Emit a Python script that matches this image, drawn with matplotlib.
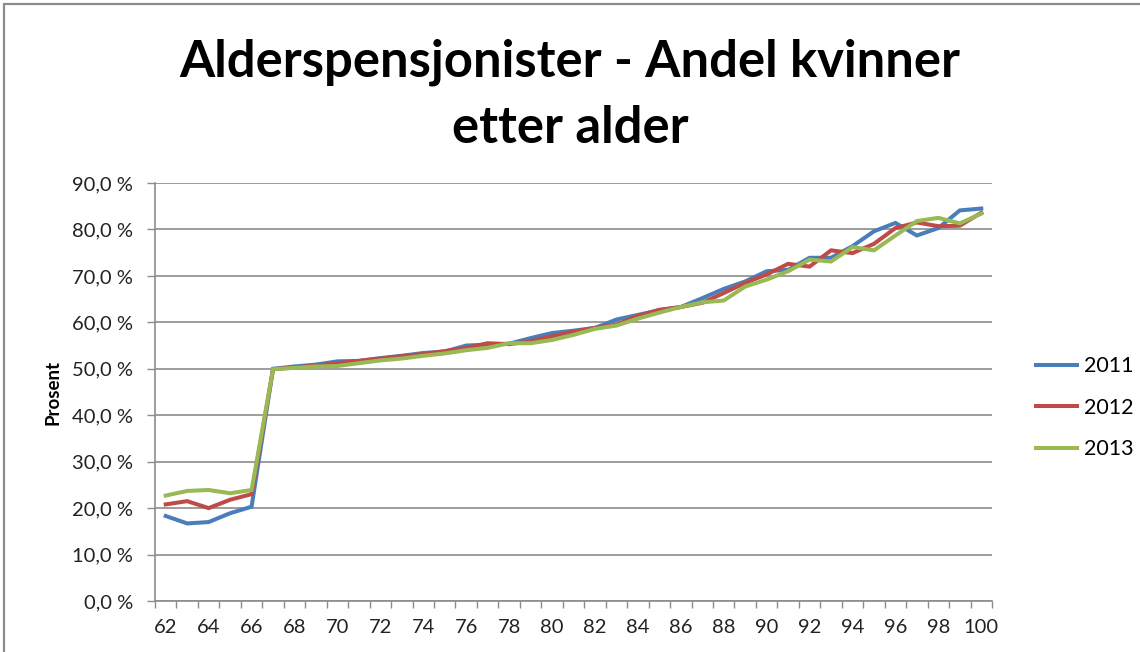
import matplotlib.pyplot as plt
from matplotlib.patches import Rectangle
from matplotlib.ticker import FuncFormatter

ages = list(range(62, 101))

# andel kvinner (%) per alder, lest av figuren
y2011 = [18.3, 16.7, 17.0, 18.9, 20.3, 50.0, 50.5, 50.9, 51.6, 51.7,
         52.3, 52.8, 53.4, 53.7, 55.0, 55.2, 55.4, 56.6, 57.7, 58.2,
         58.8, 60.6, 61.6, 62.6, 63.3, 65.2, 67.2, 68.8, 71.0, 71.3,
         73.9, 73.9, 76.4, 79.6, 81.4, 78.7, 80.3, 84.1, 84.5]
y2012 = [20.8, 21.5, 20.0, 21.8, 23.0, 49.9, 50.3, 50.7, 51.2, 51.7,
         52.2, 52.7, 53.2, 53.8, 54.5, 55.5, 55.3, 55.9, 57.0, 58.0,
         58.8, 59.5, 61.4, 62.7, 63.3, 64.2, 66.3, 68.5, 70.3, 72.6,
         72.0, 75.5, 74.9, 76.9, 80.3, 81.5, 80.7, 80.8, 83.6]
y2013 = [22.7, 23.7, 23.9, 23.2, 23.9, 49.9, 50.2, 50.5, 50.6, 51.2,
         51.8, 52.2, 52.8, 53.3, 54.0, 54.5, 55.5, 55.5, 56.2, 57.3,
         58.6, 59.3, 60.8, 62.1, 63.3, 64.3, 64.7, 67.7, 69.2, 71.0,
         73.5, 73.1, 76.2, 75.5, 78.7, 81.8, 82.5, 81.3, 83.4]

series = [("2011", y2011, "#4a7ebb"),
          ("2012", y2012, "#be4b48"),
          ("2013", y2013, "#98b954")]

font = "Lato"
plt.rcParams['font.family'] = [font, 'DejaVu Sans']

fig = plt.figure(figsize=(11.4, 6.52), dpi=100)
# grå ramme rundt diagramområdet
fig.patches.append(Rectangle((4 / 1140, -0.1), 1.2, 1.1 - 4 / 652,
                             transform=fig.transFigure, fill=False,
                             edgecolor="#8c8c8c", linewidth=1.6))

ax = fig.add_axes([155 / 1140, 51 / 652, 837 / 1140, 418 / 652])

x = list(range(len(ages)))
for name, vals, col in series:
    ax.plot(x, vals, color=col, linewidth=2.9, label=name,
            solid_joinstyle="miter")

ax.set_xlim(-0.5, len(ages) - 0.5)
ax.set_ylim(0, 90)

ax.set_yticks(range(0, 91, 10))
ax.yaxis.set_major_formatter(FuncFormatter(lambda v, p: f"{v:.1f} %".replace(".", ",")))
ax.grid(axis="y", color="#8c8c8c", linewidth=1.2)
ax.set_axisbelow(True)

ax.set_xticks(x[::2])
ax.set_xticklabels([str(a) for a in ages[::2]])
ax.set_xticks([i - 0.5 for i in range(len(ages) + 1)], minor=True)
ax.tick_params(axis="x", which="major", length=0, pad=13, labelsize=14.5,
               labelcolor="#222222")
ax.tick_params(axis="x", which="minor", length=5, color="#8c8c8c", width=1)
ax.tick_params(axis="y", length=6, color="#8c8c8c", width=1, pad=10,
               labelsize=14.5, labelcolor="#222222")

for s in ["top", "right"]:
    ax.spines[s].set_visible(False)
for s in ["left", "bottom"]:
    ax.spines[s].set_color("#8c8c8c")
    ax.spines[s].set_linewidth(1.2)

ax.set_ylabel("Prosent", fontsize=13.5, fontweight="bold")
ax.yaxis.set_label_coords(-0.112, 0.5)

fig.text(0.5, 0.854, "Alderspensjonister - Andel kvinner\netter alder",
         ha="center", va="center", fontsize=36.5, fontweight="bold",
         linespacing=1.48)

ax.legend(loc="center left", bbox_to_anchor=(1.03, 0.462), frameon=False,
          fontsize=15.5, handlelength=1.9, handletextpad=0.3,
          labelspacing=1.0)

fig.savefig("out.png", dpi=100)
